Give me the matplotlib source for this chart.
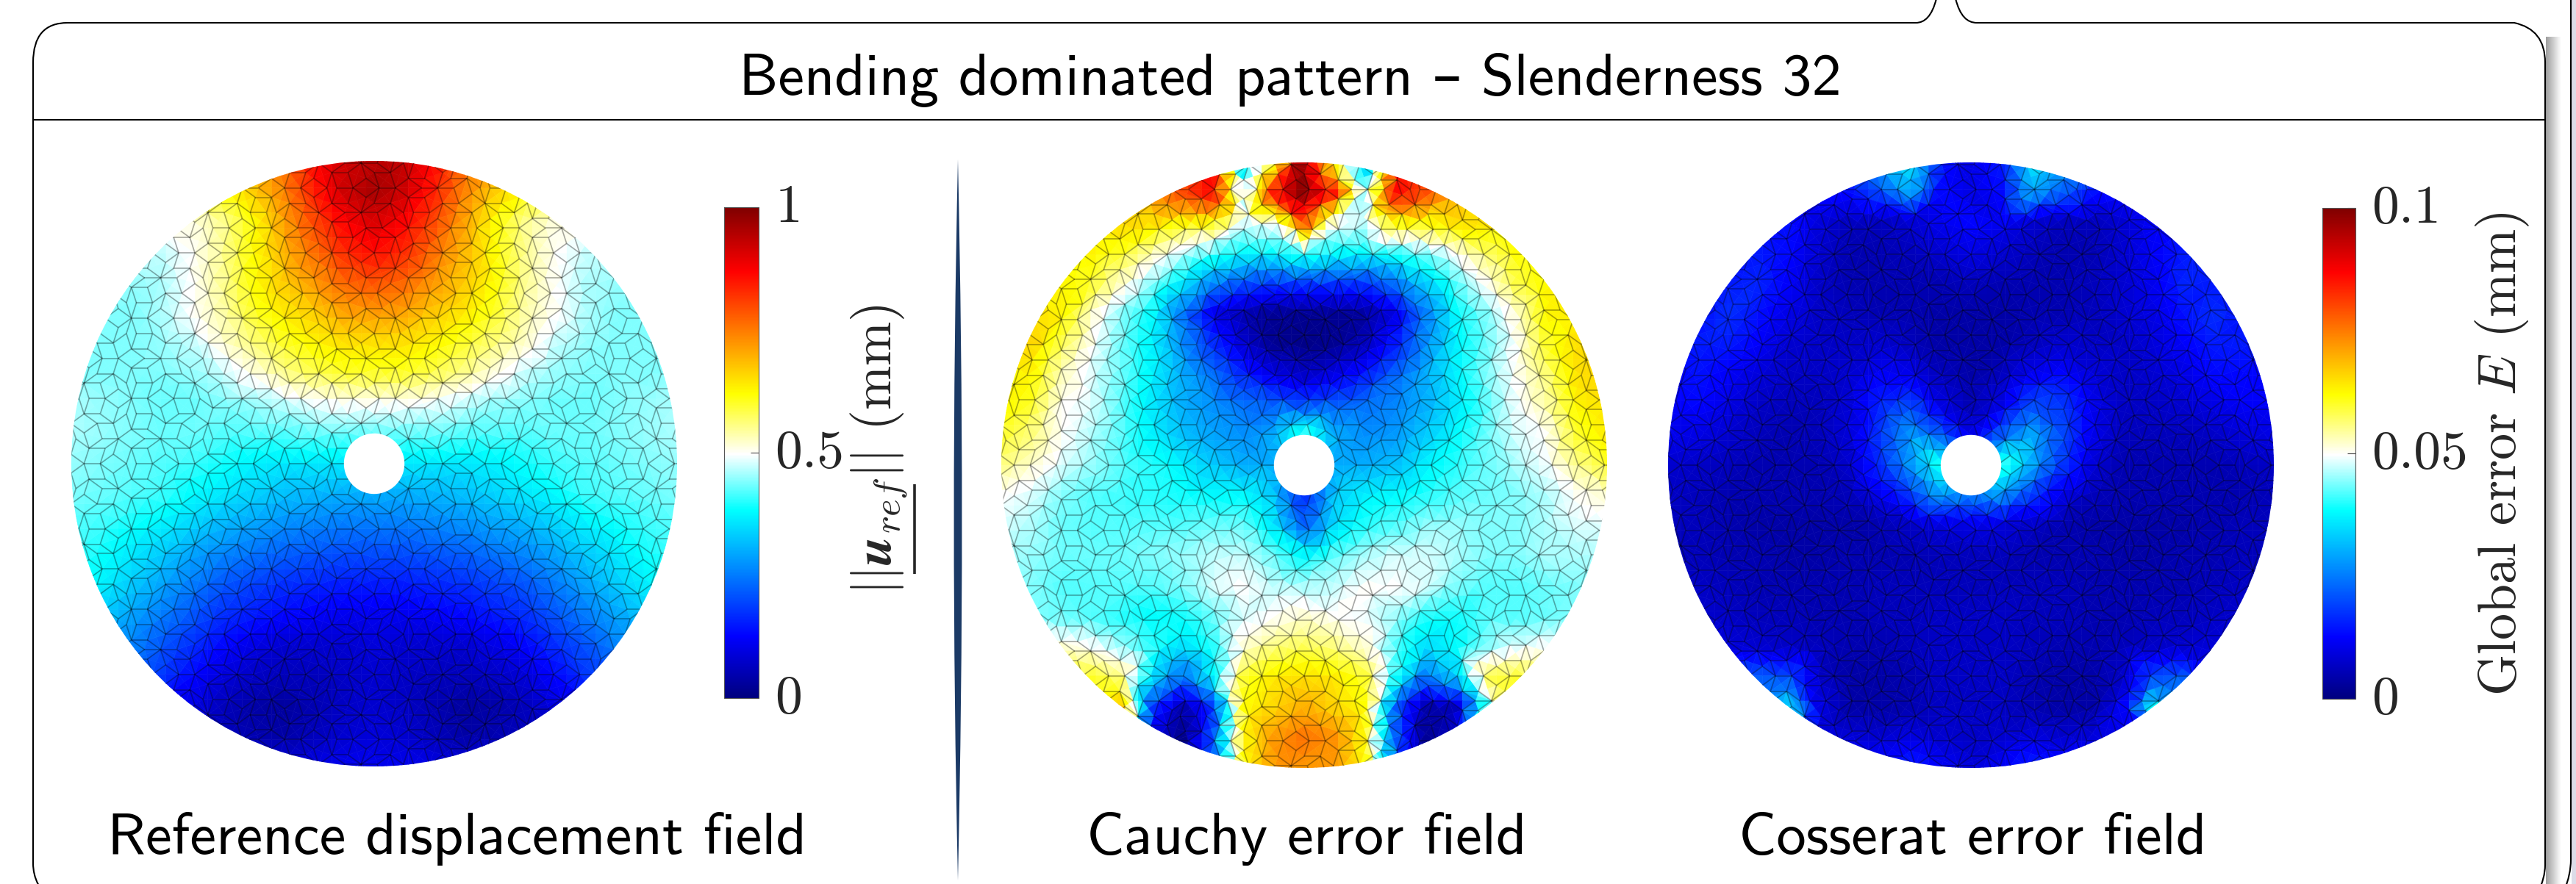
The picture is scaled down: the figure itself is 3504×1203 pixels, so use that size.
"""Bending dominated pattern panel: reference field and Cauchy / Cosserat error fields."""
import cmath
import math

import numpy as np
import matplotlib
matplotlib.use("Agg")
import matplotlib.pyplot as plt
import matplotlib.tri as mtri
from matplotlib.cm import ScalarMappable
from matplotlib.collections import LineCollection, PolyCollection
from matplotlib.colors import LinearSegmentedColormap, Normalize
from matplotlib.patches import Circle, PathPatch, Rectangle
from matplotlib.path import Path
from matplotlib.transforms import ScaledTranslation

W, H = 3504, 1203

TITLE = "Bending dominated pattern – Slenderness 32"
CAPTIONS = ["Reference displacement field", "Cauchy error field", "Cosserat error field"]
CBAR_TICKS_REF = [0, 0.5, 1]
CBAR_LABELS_REF = ["0", "0.5", "1"]
CBAR_TICKS_ERR = [0, 0.05, 0.1]
CBAR_LABELS_ERR = ["0", "0.05", "0.1"]

# fields on a 21x21 grid, x = -1..1 and y = 1..-1 in disc radii,
# in percent of the colour bar range
REF_FIELD = [
    [55, 58, 60, 62, 65, 68, 71, 76, 86, 92, 94, 93, 86, 76, 71, 68, 65, 62, 60, 58, 55],
    [55, 55, 56, 58, 60, 62, 67, 74, 84, 92, 96, 92, 84, 74, 67, 62, 60, 58, 56, 55, 55],
    [50, 50, 50, 51, 51, 55, 62, 71, 80, 87, 91, 87, 80, 71, 62, 55, 51, 51, 50, 50, 50],
    [47, 47, 47, 47, 50, 55, 62, 69, 76, 83, 86, 83, 76, 69, 62, 55, 50, 47, 47, 47, 47],
    [45, 45, 45, 46, 50, 55, 62, 67, 72, 77, 79, 77, 72, 67, 62, 55, 50, 46, 45, 45, 45],
    [44, 44, 44, 46, 50, 54, 60, 64, 67, 71, 72, 71, 67, 64, 60, 54, 50, 46, 44, 44, 44],
    [44, 44, 44, 45, 47, 52, 56, 60, 63, 65, 65, 65, 63, 60, 56, 52, 47, 45, 44, 44, 44],
    [44, 44, 44, 44, 45, 47, 51, 55, 58, 60, 60, 60, 58, 55, 51, 47, 45, 44, 44, 44, 44],
    [46, 45, 44, 43, 43, 44, 45, 47, 49, 50, 50, 50, 49, 47, 45, 44, 43, 43, 44, 45, 46],
    [46, 45, 44, 43, 43, 42, 42, 42, 43, 43, 43, 43, 43, 42, 42, 42, 43, 43, 44, 45, 46],
    [45, 44, 43, 42, 41, 39, 37, 36, 36, 36, 36, 36, 36, 36, 37, 39, 41, 42, 43, 44, 45],
    [44, 43, 42, 41, 38, 36, 34, 32, 31, 30, 30, 30, 31, 32, 34, 36, 38, 41, 42, 43, 44],
    [42, 41, 39, 37, 34, 31, 29, 27, 26, 25, 25, 25, 26, 27, 29, 31, 34, 37, 39, 41, 42],
    [41, 39, 36, 33, 29, 26, 24, 22, 21, 20, 20, 20, 21, 22, 24, 26, 29, 33, 36, 39, 41],
    [39, 37, 33, 29, 25, 21, 19, 17, 16, 15, 15, 15, 16, 17, 19, 21, 25, 29, 33, 37, 39],
    [35, 33, 29, 25, 21, 17, 15, 13, 12, 11, 11, 11, 12, 13, 15, 17, 21, 25, 29, 33, 35],
    [30, 28, 26, 21, 17, 13, 10, 8, 8, 8, 9, 8, 8, 8, 10, 13, 17, 21, 26, 28, 30],
    [25, 22, 20, 18, 13, 9, 7, 6, 6, 7, 8, 7, 6, 6, 7, 9, 13, 18, 20, 22, 25],
    [20, 15, 12, 11, 10, 6, 4, 3, 5, 7, 8, 7, 5, 3, 4, 6, 10, 11, 12, 15, 20],
    [20, 15, 10, 8, 7, 6, 5, 4, 6, 8, 9, 8, 6, 4, 5, 6, 7, 8, 10, 15, 20],
    [20, 15, 10, 10, 10, 10, 10, 10, 10, 11, 11, 11, 10, 10, 10, 10, 10, 10, 10, 15, 20],
]
CAUCHY_FIELD = [
    [70, 70, 70, 70, 70, 74, 80, 87, 32, 60, 98, 60, 30, 87, 80, 74, 70, 70, 70, 70, 70],
    [66, 66, 66, 66, 66, 72, 80, 87, 45, 85, 100, 85, 45, 87, 80, 72, 66, 66, 66, 66, 66],
    [66, 66, 66, 66, 66, 65, 62, 62, 48, 50, 80, 50, 47, 62, 62, 65, 65, 65, 65, 65, 65],
    [63, 63, 63, 63, 60, 53, 47, 42, 38, 38, 42, 38, 38, 40, 44, 50, 57, 62, 63, 63, 63],
    [63, 63, 63, 60, 52, 44, 36, 26, 20, 18, 18, 18, 18, 24, 33, 42, 50, 59, 63, 63, 63],
    [65, 65, 63, 52, 44, 38, 24, 10, 5, 2, 2, 2, 3, 10, 25, 38, 44, 52, 63, 64, 64],
    [66, 66, 58, 50, 43, 37, 27, 17, 8, 2, 1, 2, 6, 15, 27, 37, 43, 50, 60, 65, 65],
    [62, 63, 53, 48, 43, 37, 30, 24, 16, 10, 7, 10, 15, 23, 30, 37, 44, 50, 56, 65, 66],
    [63, 60, 50, 48, 42, 36, 30, 27, 24, 22, 20, 22, 24, 26, 30, 36, 42, 49, 54, 63, 65],
    [60, 56, 50, 46, 42, 37, 32, 29, 27, 30, 42, 30, 27, 28, 33, 38, 43, 48, 50, 60, 64],
    [56, 52, 48, 45, 42, 40, 37, 33, 30, 30, 30, 30, 30, 32, 37, 40, 43, 46, 49, 55, 60],
    [50, 48, 44, 42, 41, 40, 39, 38, 38, 33, 16, 33, 37, 38, 40, 42, 43, 44, 46, 50, 52],
    [48, 46, 43, 42, 42, 42, 42, 43, 43, 36, 22, 35, 40, 42, 45, 45, 44, 44, 46, 48, 48],
    [46, 45, 43, 43, 43, 44, 45, 47, 47, 43, 38, 43, 46, 48, 48, 46, 44, 44, 46, 46, 46],
    [44, 44, 42, 42, 42, 42, 44, 48, 50, 47, 46, 47, 50, 50, 48, 44, 42, 42, 43, 44, 44],
    [44, 44, 43, 42, 40, 38, 39, 43, 48, 50, 52, 50, 49, 45, 40, 39, 42, 42, 43, 44, 44],
    [52, 52, 52, 50, 45, 40, 35, 40, 52, 56, 58, 56, 52, 42, 35, 38, 44, 48, 50, 50, 50],
    [60, 60, 60, 60, 56, 35, 24, 38, 60, 64, 65, 64, 60, 40, 24, 33, 58, 60, 60, 60, 60],
    [68, 68, 68, 68, 68, 18, 4, 18, 62, 66, 70, 66, 62, 22, 4, 6, 42, 60, 60, 60, 60],
    [68, 68, 68, 68, 68, 10, 1, 22, 62, 72, 76, 73, 62, 22, 2, 8, 55, 60, 60, 60, 60],
    [68, 68, 68, 68, 68, 10, 2, 22, 62, 72, 72, 72, 62, 22, 3, 8, 55, 60, 60, 60, 60],
]
COSSERAT_FIELD = [
    [20, 20, 20, 20, 20, 20, 25, 30, 36, 15, 10, 15, 36, 30, 25, 20, 20, 20, 20, 20, 20],
    [15, 15, 15, 15, 15, 14, 13, 20, 30, 13, 10, 13, 30, 22, 14, 14, 15, 15, 15, 15, 15],
    [14, 14, 14, 14, 14, 9, 6, 6, 8, 11, 13, 11, 8, 6, 6, 8, 12, 13, 14, 14, 14],
    [13, 13, 13, 15, 13, 8, 5, 5, 6, 8, 10, 8, 6, 5, 5, 8, 12, 15, 15, 13, 13],
    [13, 13, 15, 16, 12, 7, 5, 5, 5, 5, 6, 5, 5, 5, 6, 8, 11, 16, 15, 13, 13],
    [13, 13, 17, 14, 10, 7, 6, 5, 5, 4, 4, 4, 5, 5, 6, 8, 10, 14, 17, 14, 13],
    [13, 15, 15, 12, 8, 7, 7, 8, 6, 4, 4, 4, 6, 8, 7, 7, 9, 12, 15, 15, 13],
    [12, 14, 12, 9, 7, 7, 8, 12, 11, 6, 4, 6, 11, 13, 9, 7, 8, 10, 13, 13, 12],
    [12, 13, 10, 7, 6, 6, 9, 16, 20, 10, 5, 10, 20, 18, 11, 7, 7, 8, 10, 12, 12],
    [11, 10, 8, 6, 5, 6, 9, 18, 28, 22, 10, 22, 30, 20, 11, 6, 6, 6, 7, 9, 10],
    [8, 7, 6, 5, 5, 5, 8, 17, 28, 40, 30, 42, 30, 18, 9, 5, 5, 5, 5, 6, 7],
    [7, 6, 5, 5, 5, 5, 6, 11, 18, 28, 25, 28, 18, 10, 6, 5, 5, 5, 5, 5, 6],
    [6, 6, 5, 4, 4, 4, 4, 5, 7, 9, 10, 9, 7, 5, 4, 4, 4, 4, 5, 6, 6],
    [6, 6, 5, 5, 4, 4, 5, 5, 5, 6, 6, 6, 5, 5, 5, 4, 4, 5, 5, 6, 6],
    [7, 7, 6, 5, 5, 5, 5, 6, 6, 6, 6, 6, 6, 6, 5, 5, 5, 5, 6, 7, 7],
    [8, 8, 7, 6, 6, 5, 5, 6, 6, 7, 7, 7, 6, 6, 5, 5, 6, 6, 7, 8, 8],
    [11, 11, 9, 8, 7, 6, 5, 5, 6, 7, 7, 7, 6, 5, 5, 6, 7, 8, 9, 11, 11],
    [15, 14, 13, 22, 20, 7, 4, 4, 5, 7, 7, 7, 5, 4, 4, 7, 20, 22, 13, 14, 15],
    [20, 20, 20, 30, 36, 10, 4, 4, 5, 7, 7, 7, 5, 4, 4, 12, 38, 30, 20, 20, 20],
    [20, 20, 15, 15, 14, 10, 9, 8, 10, 8, 7, 8, 10, 8, 9, 10, 14, 15, 15, 20, 20],
    [15, 15, 15, 15, 15, 15, 15, 15, 16, 12, 9, 12, 16, 15, 15, 15, 15, 15, 15, 15, 15],
]
FIELDS = [REF_FIELD, CAUCHY_FIELD, COSSERAT_FIELD]

# layout, in pixels of the full image
DISC_CENTERS = [(509, 631), (1774, 633), (2681, 633)]
DISC_R = 412
DISC_PAD = 1.03
HOLE_R = 0.1
CAPTION_X = [622, 1777, 2683]
CAPTION_Y = 1142
CBARS = [(985, 282, 47, 668), (3159, 283, 45, 668)]

plt.rcParams["mathtext.fontset"] = "cm"
plt.rcParams["axes.formatter.use_mathtext"] = True
SANS = ["cmss10", "DejaVu Sans"]
SERIF = ["cmr10", "DejaVu Serif"]
TEXT_GRAY = "#262626"

CMAP = LinearSegmentedColormap.from_list("jetwhite", [
    (0.0, (0, 0, 0.5)), (0.125, (0, 0, 1)), (0.383, (0, 1, 1)), (0.497, (1, 1, 1)),
    (0.62, (1, 1, 0)), (0.87, (1, 0, 0)), (1.0, (0.5, 0, 0))], N=512)


def penrose(level=7, size=1.55):
    """Robinson triangles of a P3 tiling, cut out around the unit disc."""
    phi = (1 + math.sqrt(5)) / 2
    tris = []
    for i in range(10):
        b = cmath.rect(size, (2 * i - 1) * math.pi / 10 + math.pi / 2)
        c = cmath.rect(size, (2 * i + 1) * math.pi / 10 + math.pi / 2)
        if i % 2 == 0:
            b, c = c, b
        tris.append((0, 0j, b, c))
    for _ in range(level):
        out = []
        for kind, a, b, c in tris:
            if kind == 0:
                p = a + (b - a) / phi
                out += [(0, c, p, b), (1, p, c, a)]
            else:
                q = b + (a - b) / phi
                r = b + (c - b) / phi
                out += [(1, r, c, a), (1, q, r, b), (0, r, q, a)]
        tris = out
    return [t for t in tris if min(abs(t[1]), abs(t[2]), abs(t[3])) < 1.06]


def build_mesh():
    facets, edges = [], {}
    for _, a, b, c in penrose():
        m = (b + c) / 2
        facets.append([(a.real, a.imag), (b.real, b.imag), (m.real, m.imag)])
        facets.append([(a.real, a.imag), (c.real, c.imag), (m.real, m.imag)])
        for p, q in ((a, b), (a, c)):
            key = tuple(sorted([(round(p.real, 6), round(p.imag, 6)),
                                (round(q.real, 6), round(q.imag, 6))]))
            edges[key] = key
    return np.array(facets), list(edges.values())


FACETS, EDGES = build_mesh()
GRID_X, GRID_Y = np.meshgrid(np.linspace(-1, 1, 21), np.linspace(1, -1, 21))
GRID_TRI = mtri.Triangulation(GRID_X.ravel(), GRID_Y.ravel())
# facets just past the rim still need a colour, so sample inside the grid
CENTROIDS = np.clip(FACETS.mean(axis=1), -1, 1)


def fig_box(x, y, w, h):
    return [x / W, 1 - (y + h) / H, w / W, h / H]


def draw_disc(fig, center, field):
    cx, cy = center
    half = DISC_R * DISC_PAD
    ax = fig.add_axes(fig_box(cx - half, cy - half, 2 * half, 2 * half))
    ax.set(xlim=(-DISC_PAD, DISC_PAD), ylim=(-DISC_PAD, DISC_PAD))
    ax.axis("off")
    ax.patch.set_visible(False)
    interp = mtri.LinearTriInterpolator(GRID_TRI, np.array(field, float).ravel())
    vals = interp(CENTROIDS[:, 0], CENTROIDS[:, 1])
    clip = Circle((0, 0), 1, transform=ax.transData)
    faces = PolyCollection(FACETS, array=np.asarray(vals), cmap=CMAP, norm=Normalize(0, 100),
                           edgecolors="face", linewidths=0.4)
    ax.add_collection(faces)
    faces.set_clip_path(clip)
    lines = LineCollection(EDGES, colors="k", linewidths=1.2, alpha=0.35)
    ax.add_collection(lines)
    lines.set_clip_path(clip)
    ax.add_patch(Circle((0, 0), HOLE_R, facecolor="white", edgecolor="none", zorder=5))


def draw_cbar(fig, box, vmax, ticks, labels):
    cax = fig.add_axes(fig_box(*box))
    sm = ScalarMappable(norm=Normalize(0, vmax), cmap=CMAP)
    cb = fig.colorbar(sm, cax=cax)
    cb.set_ticks(ticks, labels=labels)
    cb.outline.set_linewidth(0.8)
    cb.outline.set_edgecolor("#555555")
    cax.tick_params(direction="in", length=8, width=0.8, color="#444444", pad=16,
                    labelsize=53, labelcolor=TEXT_GRAY)
    up = ScaledTranslation(0, 5 / 100, fig.dpi_scale_trans)
    for lab in cax.get_yticklabels():
        lab.set_fontfamily(SERIF)
        lab.set_transform(lab.get_transform() + up)


def draw_frame(ax):
    M, L, C3, C4 = Path.MOVETO, Path.LINETO, Path.CURVE3, Path.CURVE4
    verts = [(2634, -2), (2628, 22), (2618, 31), (2606, 31), (92, 31), (45, 31), (45, 85),
             (45, 1175), (45, 1205), (72, 1228),
             (2660, -2), (2666, 22), (2676, 31), (2689, 31), (3420, 31), (3462, 40), (3462, 85),
             (3462, 1177), (3462, 1195), (3452, 1215),
             (45, 163), (3462, 163),
             (3497, -2), (3497, 1170), (3497, 1190), (3488, 1212)]
    codes = [M, C4, C4, C4, L, C3, C3, L, C3, C3,
             M, C4, C4, C4, L, C3, C3, L, C3, C3,
             M, L, M, L, C3, C3]
    ax.imshow(np.linspace(0.62, 1, 32)[None, :], cmap="gray", vmin=0, vmax=1, aspect="auto",
              extent=(3463, 3484, 1203, 50), zorder=1)
    ax.add_patch(Rectangle((3498, 0), 8, H, facecolor="#dcdce8", edgecolor="none", zorder=1))
    ax.add_patch(PathPatch(Path(verts, codes), facecolor="none", edgecolor="k", lw=1.5, zorder=2))
    # divider between the reference and the error fields
    ax.add_patch(PathPatch(Path([(1303, 217), (1314, 707), (1303, 1198), (1292, 707), (1303, 217)],
                                [M, C3, C3, C3, C3]),
                           facecolor="#1b3a66", edgecolor="none", zorder=2))
    # underline of the u_ref term in the colour bar label
    ax.plot([1244, 1244], [659, 781], color=TEXT_GRAY, lw=2.6, solid_capstyle="butt", zorder=2)
    ax.set(xlim=(0, W), ylim=(H, 0))


def main():
    fig = plt.figure(figsize=(W / 100, H / 100), dpi=100, facecolor="white")
    back = fig.add_axes([0, 0, 1, 1])
    back.axis("off")
    draw_frame(back)

    back.text(1755, 109, TITLE, family=SANS, fontsize=57.7, ha="center", va="center", color="k")
    for x, cap in zip(CAPTION_X, CAPTIONS):
        back.text(x, CAPTION_Y, cap, family=SANS, fontsize=58, ha="center", va="center", color="k")

    for center, field in zip(DISC_CENTERS, FIELDS):
        draw_disc(fig, center, field)

    draw_cbar(fig, CBARS[0], 1, CBAR_TICKS_REF, CBAR_LABELS_REF)
    draw_cbar(fig, CBARS[1], 0.1, CBAR_TICKS_ERR, CBAR_LABELS_ERR)

    back.text(1196, 612, r"$||\boldsymbol{u}_{ref}||$ (mm)", family=SERIF, fontsize=52,
              rotation=90, ha="center", va="center", color=TEXT_GRAY)
    back.text(3404, 618, r"Global error $E$ (mm)", family=SERIF, fontsize=52,
              rotation=90, ha="center", va="center", color=TEXT_GRAY)

    fig.savefig("out.png", dpi=100)
    plt.close(fig)


if __name__ == "__main__":
    main()
